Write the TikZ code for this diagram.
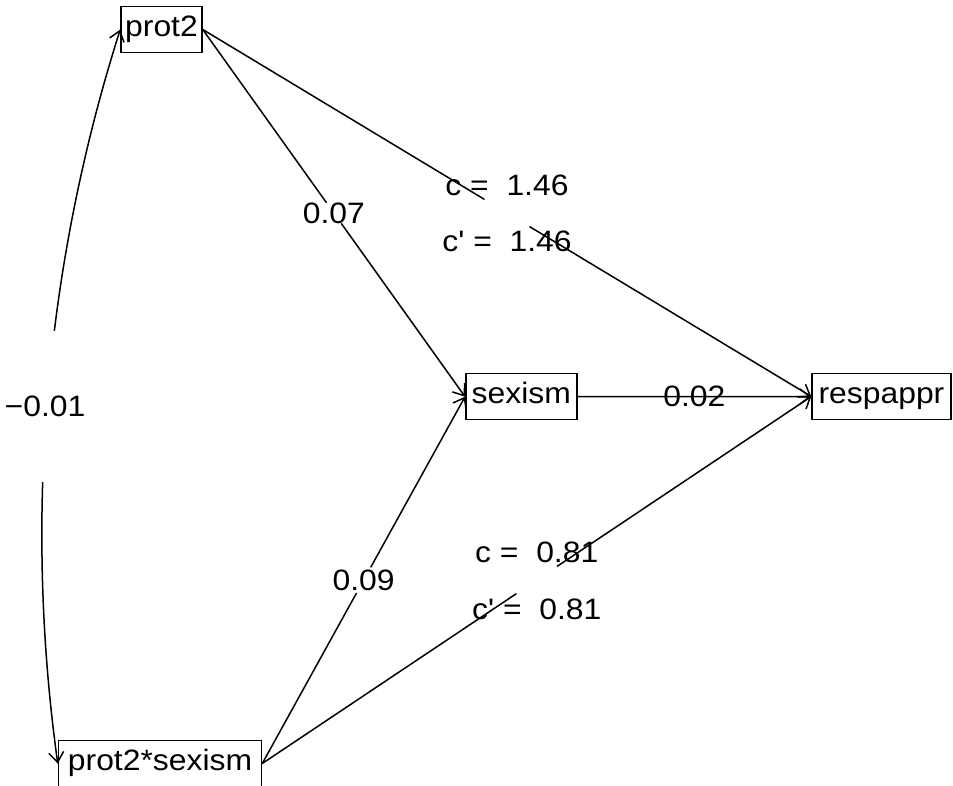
\documentclass[tikz,border=0pt]{standalone}
\usepackage{fontspec}
\setmainfont[FakeStretch=1.08,Ligatures=TeXOff]{Liberation Sans}
\usetikzlibrary{calc,arrows.meta}
\tikzset{
  box/.style={draw, line width=1.5pt, inner sep=0pt, text height=13pt, text depth=0pt, minimum height=46pt},
  lbl/.style={inner sep=0pt},
  arr/.style={-{Straight Barb[length=10pt,width=15pt]}},
  dblarr/.style={{Straight Barb[length=10pt,width=15pt]}-{Straight Barb[length=10pt,width=15pt]}},
  edge/.style={line width=1.5pt}
}
\begin{document}
\begin{tikzpicture}[x=1pt,y=-1pt,every node/.style={font=\fontsize{29.5pt}{35pt}\selectfont}]
\useasboundingbox (0,0) rectangle (953,785);
% boxes
\node[box, minimum width=81pt] (prot2) at (161.5,29.5) {prot2};
\node[box, minimum width=111pt] (sexism) at (521.3,396.7) {sexism};
\node[box, minimum width=139pt] (respappr) at (881.5,396.5) {respappr};
\node[box, minimum width=203pt] (pxs) at (160,763.5) {prot2*sexism};
% curved double arrow
\draw[edge,dblarr] (prot2.west) .. controls (45,266.3) and (23.6,517.3) .. (pxs.west);
\node[lbl, fill=white, minimum height=151pt] (cov) at (45,406) {−0.01};
% prot2 -> sexism
\draw[edge] (prot2.east) -- ($(prot2.east)!0.472!(sexism.west)$);
\draw[edge,arr] ($(prot2.east)!0.528!(sexism.west)$) -- (sexism.west);
\node[lbl] (a1) at ($(prot2.east)!0.5!(sexism.west)$) {0.07};
% pxs -> sexism
\draw[edge] (pxs.east) -- ($(pxs.east)!0.465!(sexism.west)$);
\draw[edge,arr] ($(pxs.east)!0.535!(sexism.west)$) -- (sexism.west);
\node[lbl] (a2) at ($(pxs.east)!0.5!(sexism.west)$) {0.09};
% sexism -> respappr
\node[lbl] (b1) at ($(sexism.east)!0.5!(respappr.west)$) {0.02};
\draw[edge,arr] (sexism.east) -- (respappr.west);
% prot2 -> respappr
\coordinate (m1) at ($(prot2.east)!0.5!(respappr.west)$);
\node[lbl] (c1) at ($(m1)+(0,-28)$) {c = \ 1.46};
\node[lbl] (c1p) at ($(m1)+(0,28)$) {c' = \ 1.46};
\draw[edge] (prot2.east) -- ($(prot2.east)!0.463!(respappr.west)$);
\draw[edge,arr] ($(prot2.east)!0.537!(respappr.west)$) -- (respappr.west);
% pxs -> respappr
\coordinate (m2) at ($(pxs.east)!0.5!(respappr.west)$);
\node[lbl] (c2) at ($(m2)+(0,-28)$) {c = \ 0.81};
\node[lbl] (c2p) at ($(m2)+(0,29)$) {c' = \ 0.81};
\draw[edge] (pxs.east) -- ($(pxs.east)!0.463!(respappr.west)$);
\draw[edge,arr] ($(pxs.east)!0.537!(respappr.west)$) -- (respappr.west);
\end{tikzpicture}
\end{document}
